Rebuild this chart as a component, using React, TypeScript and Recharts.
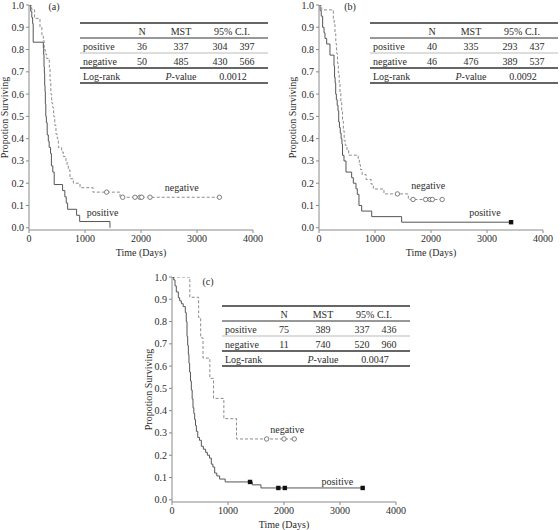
import React from "react";
import { ComposedChart, Line, Scatter, XAxis, YAxis, ReferenceDot } from "recharts";

const FONT = "'Liberation Serif', 'Times New Roman', serif";
const INK = "#2b2b2b";
const AXIS = "#8a8a8a";

type Pt = [number, number];

const xTicks = [0, 1000, 2000, 3000, 4000];
const yTicks = [0, 0.1, 0.2, 0.3, 0.4, 0.5, 0.6, 0.7, 0.8, 0.9, 1.0];

const groups = ["positive", "negative"];
const header = ["N", "MST", "95% C.I."];

// (a)
const aPositive: Pt[] = [
  [0, 1], [30, 0.972], [50, 0.944], [65, 0.917], [75, 0.833], [256, 0.806], [262, 0.778],
  [268, 0.722], [274, 0.694], [280, 0.639], [286, 0.611], [292, 0.556], [300, 0.5],
  [310, 0.472], [325, 0.417], [345, 0.389], [360, 0.361], [385, 0.333], [400, 0.278],
  [425, 0.25], [450, 0.194], [600, 0.167], [640, 0.139], [665, 0.111], [690, 0.083],
  [850, 0.056], [905, 0.028], [1446, 0],
];
const aNegative: Pt[] = [
  [0, 1], [48, 0.98], [100, 0.94], [196, 0.9], [230, 0.86], [256, 0.84], [270, 0.8],
  [290, 0.78], [315, 0.76], [363, 0.72], [375, 0.66], [390, 0.6], [405, 0.56], [423, 0.54],
  [440, 0.5], [460, 0.46], [482, 0.42], [505, 0.4], [524, 0.36], [583, 0.34], [613, 0.32],
  [660, 0.3], [680, 0.28], [702, 0.26], [732, 0.22], [792, 0.2], [911, 0.18], [1143, 0.16],
  [1625, 0.137], [3400, 0.137],
];
const aPosCensored: Pt[] = [];
const aNegCensored: Pt[] = [
  [1387, 0.16], [1673, 0.137], [1893, 0.137], [1982, 0.137], [2012, 0.137], [2161, 0.137], [3400, 0.137],
];
const aN = [36, 50];
const aMST = [337, 485];
const aLow = [304, 430];
const aHigh = [397, 566];
const aP = "0.0012";

// (b)
const bPositive: Pt[] = [
  [0, 1], [20, 0.975], [40, 0.95], [65, 0.9], [90, 0.875], [107, 0.85], [137, 0.825],
  [196, 0.775], [268, 0.725], [278, 0.675], [288, 0.65], [298, 0.6], [310, 0.575],
  [325, 0.55], [340, 0.525], [352, 0.475], [365, 0.45], [380, 0.425], [395, 0.4],
  [410, 0.375], [420, 0.325], [446, 0.3], [482, 0.25], [583, 0.225], [613, 0.2],
  [660, 0.175], [684, 0.15], [714, 0.1], [762, 0.075], [941, 0.05], [1476, 0.025], [3430, 0.025],
];
const bNegative: Pt[] = [
  [0, 1], [48, 0.978], [256, 0.935], [270, 0.913], [285, 0.87], [300, 0.826], [315, 0.783],
  [330, 0.739], [345, 0.696], [360, 0.652], [375, 0.609], [390, 0.565], [405, 0.522],
  [420, 0.478], [435, 0.435], [450, 0.391], [470, 0.37], [500, 0.348], [530, 0.326],
  [700, 0.304], [720, 0.283], [740, 0.261], [770, 0.239], [840, 0.217], [930, 0.196],
  [970, 0.174], [1160, 0.152], [1595, 0.127], [2200, 0.127],
];
const bPosCensored: Pt[] = [[3430, 0.025]];
const bNegCensored: Pt[] = [
  [1400, 0.152], [1680, 0.127], [1905, 0.127], [1985, 0.127], [2025, 0.127], [2200, 0.127],
];
const bN = [40, 46];
const bMST = [335, 476];
const bLow = [293, 389];
const bHigh = [437, 537];
const bP = "0.0092";

// (c)
const cPositive: Pt[] = [
  [0, 1], [30, 0.987], [54, 0.96], [77, 0.933], [113, 0.907], [137, 0.893], [167, 0.88],
  [200, 0.867], [238, 0.84], [255, 0.8], [268, 0.733], [280, 0.693], [292, 0.653],
  [303, 0.613], [315, 0.573], [330, 0.533], [345, 0.493], [360, 0.453], [375, 0.413],
  [390, 0.387], [405, 0.36], [420, 0.333], [435, 0.307], [460, 0.28], [490, 0.267],
  [524, 0.24], [560, 0.227], [600, 0.213], [631, 0.2], [670, 0.187], [702, 0.16],
  [730, 0.147], [762, 0.12], [800, 0.107], [850, 0.093], [950, 0.08], [1435, 0.067],
  [1589, 0.053], [3405, 0.053],
];
const cNegative: Pt[] = [
  [0, 1], [318, 0.909], [476, 0.818], [512, 0.727], [554, 0.636], [676, 0.545],
  [742, 0.455], [926, 0.364], [1152, 0.273], [2184, 0.273],
];
const cPosCensored: Pt[] = [[1393, 0.08], [1899, 0.053], [2015, 0.053], [3405, 0.053]];
const cNegCensored: Pt[] = [[1690, 0.273], [2000, 0.273], [2184, 0.273]];
const cN = [75, 11];
const cMST = [389, 740];
const cLow = [337, 520];
const cHigh = [436, 960];
const cP = "0.0047";

const toRows = (pts: Pt[]) => pts.map(([t, s]) => ({ t, s }));

const OpenCircle = (props: any) => {
  const { cx, cy } = props;
  if (cx == null || cy == null) return <g />;
  return <circle cx={cx} cy={cy} r={2.2} fill="#fff" stroke="#6f6f6f" strokeWidth={0.9} />;
};

const FilledSquare = (props: any) => {
  const { cx, cy } = props;
  if (cx == null || cy == null) return <g />;
  return <rect x={cx - 2.2} y={cy - 2.2} width={4.4} height={4.4} fill="#111" />;
};

const textStyle = { fill: INK, fontSize: 10, fontFamily: FONT };

function KMPanel({ cfg }: { cfg: any }) {
  return (
    <div style={{ position: "absolute", left: cfg.left, top: cfg.top }}>
      <ComposedChart width={cfg.width} height={cfg.height} margin={cfg.margin}>
        <XAxis
          type="number"
          dataKey="t"
          domain={[0, 4000]}
          ticks={xTicks}
          interval={0}
          height={25}
          tickSize={3}
          tickMargin={2}
          stroke={AXIS}
          tick={textStyle}
          allowDataOverflow
          label={{ value: "Time (Days)", position: "insideBottom", offset: cfg.xLabelOffset, ...textStyle }}
        />
        <YAxis
          type="number"
          dataKey="s"
          domain={[-0.01, 1]}
          ticks={yTicks}
          interval={0}
          width={25}
          tickSize={3}
          tickMargin={2}
          stroke={AXIS}
          tick={textStyle}
          tickFormatter={(v: number) => v.toFixed(1)}
          allowDataOverflow
          label={{
            value: "Propotion Surviving",
            angle: -90,
            position: "insideLeft",
            offset: cfg.yLabelOffset,
            ...textStyle,
            style: { textAnchor: "middle" },
          }}
        />
        <Line
          data={toRows(cfg.neg)}
          dataKey="s"
          type="stepAfter"
          stroke="#8c8c8c"
          strokeWidth={1}
          strokeDasharray="3 2"
          dot={false}
          isAnimationActive={false}
        />
        <Line
          data={toRows(cfg.pos)}
          dataKey="s"
          type="stepAfter"
          stroke="#555"
          strokeWidth={1}
          dot={false}
          isAnimationActive={false}
        />
        <Scatter data={toRows(cfg.negCens)} dataKey="s" shape={OpenCircle} isAnimationActive={false} />
        <Scatter data={toRows(cfg.posCens)} dataKey="s" shape={FilledSquare} isAnimationActive={false} />
        <ReferenceDot x={cfg.negLabel[0]} y={cfg.negLabel[1]} r={0} fill="none" stroke="none"
          label={{ value: "negative", position: "center", ...textStyle }} />
        <ReferenceDot x={cfg.posLabel[0]} y={cfg.posLabel[1]} r={0} fill="none" stroke="none"
          label={{ value: "positive", position: "center", ...textStyle }} />
        <ReferenceDot x={cfg.tag[0]} y={cfg.tag[1]} r={0} fill="none" stroke="none"
          label={{ value: cfg.tagText, position: "center", ...textStyle }} />
      </ComposedChart>
    </div>
  );
}

function StatTable({ x, y, n, mst, low, high, p }: any) {
  const w = 188;
  const rows = [y + 8, y + 23, y + 38, y + 53];
  const T = (tx: number, ty: number, s: any, anchor: string = "middle") => (
    <text x={tx} y={ty} textAnchor={anchor} dominantBaseline="central" {...textStyle}>{s}</text>
  );
  return (
    <g>
      <line x1={x} x2={x + w} y1={y} y2={y} stroke="#333" strokeWidth={1.3} />
      <line x1={x} x2={x + w} y1={y + 15} y2={y + 15} stroke="#333" strokeWidth={1.1} />
      <line x1={x} x2={x + w} y1={y + 30} y2={y + 30} stroke="#aaa" strokeWidth={0.8} />
      <line x1={x} x2={x + w} y1={y + 45} y2={y + 45} stroke="#333" strokeWidth={1.3} />
      <line x1={x} x2={x + w} y1={y + 60} y2={y + 60} stroke="#333" strokeWidth={1.3} />
      {T(x + 62, rows[0], header[0])}
      {T(x + 101, rows[0], header[1])}
      {T(x + 152, rows[0], header[2])}
      {groups.map((g, i) => (
        <g key={g}>
          {T(x + 3, rows[i + 1], g, "start")}
          {T(x + 62, rows[i + 1], n[i])}
          {T(x + 101, rows[i + 1], mst[i])}
          {T(x + 140, rows[i + 1], low[i])}
          {T(x + 167, rows[i + 1], high[i])}
        </g>
      ))}
      {T(x + 3, rows[3], "Log-rank", "start")}
      <text x={x + 101} y={rows[3]} textAnchor="middle" dominantBaseline="central" {...textStyle}>
        <tspan fontStyle="italic">P</tspan>-value
      </text>
      {T(x + 153, rows[3], p)}
    </g>
  );
}

const panels = [
  {
    left: 0, top: 0, width: 280, height: 265,
    margin: { top: 5, right: 27, bottom: 10, left: 4 },
    yLabelOffset: 0, xLabelOffset: -1,
    pos: aPositive, neg: aNegative, posCens: aPosCensored, negCens: aNegCensored,
    negLabel: [2727, 0.183], posLabel: [1316, 0.07], tag: [446, 0.995], tagText: "(a)",
  },
  {
    left: 280, top: 0, width: 280, height: 265,
    margin: { top: 5, right: 17, bottom: 10, left: 14 },
    yLabelOffset: -2, xLabelOffset: -1,
    pos: bPositive, neg: bNegative, posCens: bPosCensored, negCens: bNegCensored,
    negLabel: [1952, 0.188], posLabel: [2964, 0.07], tag: [554, 0.995], tagText: "(b)",
  },
  {
    left: 130, top: 265, width: 290, height: 265,
    margin: { top: 12, right: 24, bottom: 3, left: 17 },
    yLabelOffset: 1, xLabelOffset: -1,
    pos: cPositive, neg: cNegative, posCens: cPosCensored, negCens: cNegCensored,
    negLabel: [2059, 0.317], posLabel: [2952, 0.082], tag: [643, 0.982], tagText: "(c)",
  },
];

export default function App() {
  return (
    <div style={{ position: "absolute", left: 0, top: 0, width: 560, height: 530, background: "#fff", overflow: "hidden" }}>
      {panels.map((cfg) => (
        <KMPanel key={cfg.tagText} cfg={cfg} />
      ))}
      <svg width={560} height={530} style={{ position: "absolute", left: 0, top: 0, pointerEvents: "none" }}>
        <StatTable x={80} y={23} n={aN} mst={aMST} low={aLow} high={aHigh} p={aP} />
        <StatTable x={370} y={23} n={bN} mst={bMST} low={bLow} high={bHigh} p={bP} />
        <StatTable x={222} y={306} n={cN} mst={cMST} low={cLow} high={cHigh} p={cP} />
      </svg>
    </div>
  );
}
